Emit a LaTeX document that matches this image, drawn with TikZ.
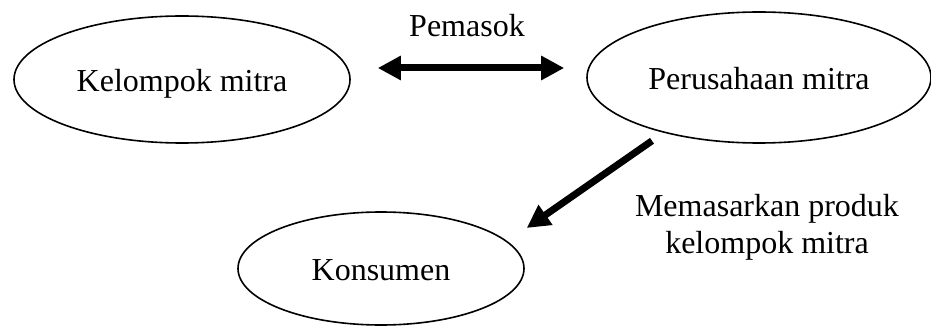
\documentclass[tikz,border=0pt]{standalone}
\usepackage{fontspec}
\setmainfont{Liberation Serif}
\usepackage{tikz}
\usetikzlibrary{arrows.meta}
\usetikzlibrary{shapes.geometric}
\tikzset{
pihak/.style={shape=ellipse, draw=black, line width=1.6pt, inner sep=0pt, text height=24pt, text depth=0pt},
alur/.style={line width=7pt, -{Triangle[length=23pt,width=23pt]}},
alurdua/.style={line width=7pt, {Triangle[length=23pt,width=23pt]}-{Triangle[length=23pt,width=23pt]}}}

\begin{document}
\begin{tikzpicture}[x=1pt, y=-1pt, font=\fontsize{32pt}{37pt}\selectfont]

                    \useasboundingbox (0,0) rectangle (931,326);

                    \node[pihak, minimum width=336pt, minimum height=127pt] (K) at (182, 79.5) {Kelompok mitra};
                    \node[pihak, minimum width=344pt, minimum height=131pt] (P) at (759, 77.5) {Perusahaan mitra};
                    \node[pihak, minimum width=286pt, minimum height=113pt] (N) at (381, 268.5) {Konsumen};
                    \node[anchor=base, inner sep=0pt] (S) at (467, 37) {Pemasok};
                    \node[anchor=base, inner sep=0pt, align=center] (M) at (767, 253) {Memasarkan produk\\kelompok mitra};

                    \draw[alurdua] ([xshift=27pt, yshift=11.5pt]K.east) -- ([xshift=-22pt, yshift=9.5pt]P.west);
                    \draw[alur] ([xshift=-107pt, yshift=3pt]P.south) -- ([xshift=44pt]N.north east);

                \end{tikzpicture}
\end{document}
